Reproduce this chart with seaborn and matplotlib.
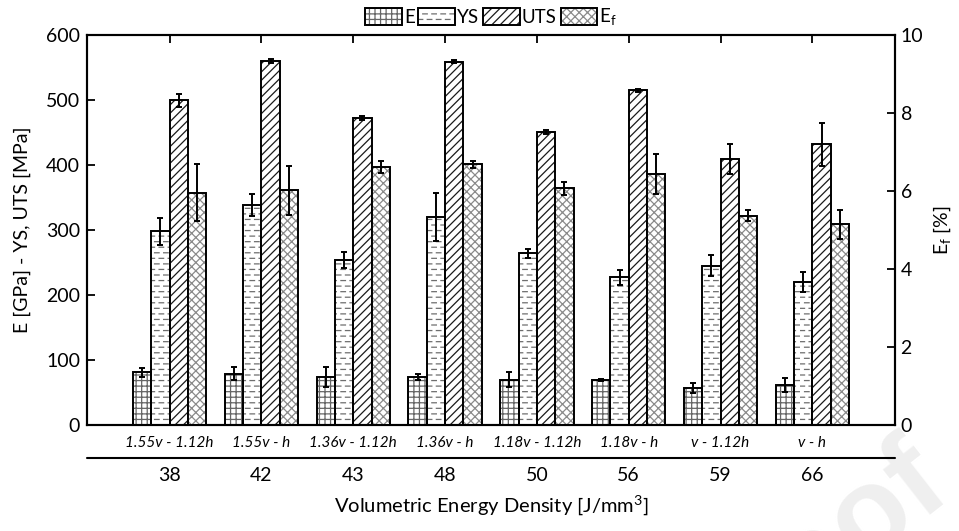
import matplotlib
matplotlib.use("Agg")
import numpy as np
import pandas as pd
import matplotlib.pyplot as plt
import matplotlib.hatch as mhatch
import matplotlib.transforms as mtransforms
from matplotlib.path import Path
from matplotlib.patches import Patch
import seaborn as sns

# ---- data -------------------------------------------------------------
energy = ["38", "42", "43", "48", "50", "56", "59", "66"]
strategy = ["1.55v - 1.12h", "1.55v - h", "1.36v - 1.12h", "1.36v - h",
            "1.18v - 1.12h", "1.18v - h", "v - 1.12h", "v - h"]

E = [81, 79, 74, 74, 70, 69, 57, 62]
E_err = [7, 10, 16, 4, 12, 2, 7, 11]
YS = [298, 339, 254, 320, 264, 227, 245, 220]
YS_err = [21, 17, 12, 37, 7, 12, 16, 15]
UTS = [500, 560, 472, 559, 451, 515, 409, 432]
UTS_err = [10, 3, 3, 2, 3, 2, 23, 33]
Ef = [5.96, 6.02, 6.62, 6.68, 6.07, 6.44, 5.37, 5.15]
Ef_err = [0.74, 0.63, 0.16, 0.10, 0.17, 0.52, 0.14, 0.37]

keys = ["E", "YS", "UTS", "Ef"]
legend_labels = ["E", "YS", "UTS", "E$_\\mathregular{f}$"]
hatches = {"E": "+++", "YS": "---", "UTS": "////", "Ef": "xxxx"}
hatch_colors = {"E": "#666666", "YS": "#6e6e6e", "UTS": "#1a1a1a", "Ef": "#8a8a8a"}


# ---- hatch patterns: '+' stays a square grid, '-' becomes staggered dashes ----
class GridRows(mhatch.HorizontalHatch):
    def __init__(self, hatch, density):
        self.num_lines = int(hatch.count('+') * density)
        self.num_vertices = self.num_lines * 2


class DashRows(mhatch.HatchPatternBase):
    dashes_per_row = 11

    def __init__(self, hatch, density):
        self.num_rows = int(hatch.count('-') * density)
        self.num_vertices = self.num_rows * self.dashes_per_row * 2

    def set_vertices_and_codes(self, vertices, codes):
        n = self.dashes_per_row
        period = 1.0 / n
        k = 0
        for r in range(self.num_rows):
            y = (r + 0.5) / self.num_rows
            shift = 0.5 * period * (r % 2)
            for d in range(n):
                x0 = d * period + shift
                vertices[k] = (x0, y)
                vertices[k + 1] = (x0 + 0.5 * period, y)
                codes[k] = Path.MOVETO
                codes[k + 1] = Path.LINETO
                k += 2


mhatch._hatch_types = [GridRows if t is mhatch.HorizontalHatch else t
                       for t in mhatch._hatch_types] + [DashRows]

# ---- style ------------------------------------------------------------
sns.set_theme(style="white")
plt.rcParams["font.family"] = ["Lato", "DejaVu Sans"]
plt.rcParams.update({
    "text.color": "black", "axes.labelcolor": "black",
    "xtick.color": "black", "ytick.color": "black",
    "hatch.linewidth": 0.9,
})

left = pd.DataFrame({
    "energy": energy * 3,
    "series": ["E"] * 8 + ["YS"] * 8 + ["UTS"] * 8,
    "value": E + YS + UTS,
})
right = pd.DataFrame({"energy": energy, "series": ["Ef"] * 8, "value": Ef})

fig, ax = plt.subplots(figsize=(9.59, 5.31), dpi=100)
fig.subplots_adjust(left=87 / 959, right=895 / 959, bottom=106 / 531, top=496 / 531)
ax2 = ax.twinx()


def draw_bars(axis, data, present, values, errs):
    sns.barplot(data=data, x="energy", y="value", hue="series", order=energy,
                hue_order=keys, palette={k: "white" for k in keys},
                errorbar=None, width=0.8, dodge=True, saturation=1, linewidth=0,
                legend=False, ax=axis)
    filled = list(axis.patches)
    for i, key in enumerate(present):
        for p in filled[i * 8:(i + 1) * 8]:
            p.set_hatch(hatches[key])
            p.set_edgecolor(hatch_colors[key])
            p.set_linewidth(0)
    # black outlines on top of the hatched fills
    sns.barplot(data=data, x="energy", y="value", hue="series", order=energy,
                hue_order=keys, palette={k: "black" for k in keys},
                errorbar=None, width=0.8, dodge=True, saturation=1, fill=False,
                linewidth=1.4, legend=False, ax=axis)
    for i, key in enumerate(present):
        bars = filled[i * 8:(i + 1) * 8]
        xs = [b.get_x() + b.get_width() / 2 for b in bars]
        axis.errorbar(xs, values[i], yerr=errs[i], fmt="none", ecolor="black",
                      elinewidth=1.4, capsize=2.3, capthick=1.4, zorder=4)


draw_bars(ax, left, ["E", "YS", "UTS"], [E, YS, UTS], [E_err, YS_err, UTS_err])
draw_bars(ax2, right, ["Ef"], [Ef], [Ef_err])

# ---- axes -------------------------------------------------------------
ax.set_xlim(-0.9, 7.9)
ax.set_ylim(0, 600)
ax.set_yticks(range(0, 601, 100))
ax2.set_ylim(0, 10)
ax2.set_yticks(range(0, 11, 2))

ax.tick_params(axis="y", direction="in", length=5.5, width=1.3, labelsize=14, pad=5,
               left=True, right=False)
ax.tick_params(axis="x", direction="in", length=5.5, width=1.3, labelsize=14, pad=30,
               bottom=False, top=True, labelbottom=True, labeltop=False)
ax2.tick_params(axis="y", direction="in", length=5.5, width=1.3, labelsize=14, pad=4,
                right=True, left=False)

for a in (ax, ax2):
    for s in a.spines.values():
        s.set_linewidth(1.5)
        s.set_color("black")

ax.set_xlabel("Volumetric Energy Density [J/mm$^\\mathregular{3}$]", fontsize=14.5, labelpad=7)
ax.set_ylabel("E [GPa] - YS, UTS [MPa]", fontsize=14, labelpad=11)
ax2.set_ylabel("E$_\\mathregular{f}$ [%]", fontsize=14, labelpad=6)

# scanning-strategy labels and the rule separating them from the energy values
blend = mtransforms.blended_transform_factory(ax.transData, ax.transAxes)
for i, s in enumerate(strategy):
    ax.text(i, -0.046, s, transform=blend, ha="center", va="center",
            fontstyle="italic", fontsize=11)
ax.plot([0, 1], [-0.084, -0.084], transform=ax.transAxes, clip_on=False,
        color="black", lw=1.5)

# ---- legend -----------------------------------------------------------
handles = [(Patch(facecolor="white", edgecolor=hatch_colors[k], hatch=hatches[k], linewidth=0),
            Patch(facecolor="none", edgecolor="black", linewidth=1.4)) for k in keys]
fig.legend(handles, legend_labels, loc="center", bbox_to_anchor=(491 / 959, 1 - 17.5 / 531),
           ncol=4, frameon=False, handlelength=1.95, handleheight=1.0,
           handletextpad=0.12, columnspacing=0.2, fontsize=13.5, borderpad=0)

# page watermark
fig.text(953 / 959, 1 - 491 / 531, "Pre-proof", rotation=38, rotation_mode="anchor",
         ha="right", va="baseline", fontsize=88, fontweight="bold",
         color="#efefef", zorder=-1, family="Liberation Sans")

fig.savefig("out.png", dpi=100)
